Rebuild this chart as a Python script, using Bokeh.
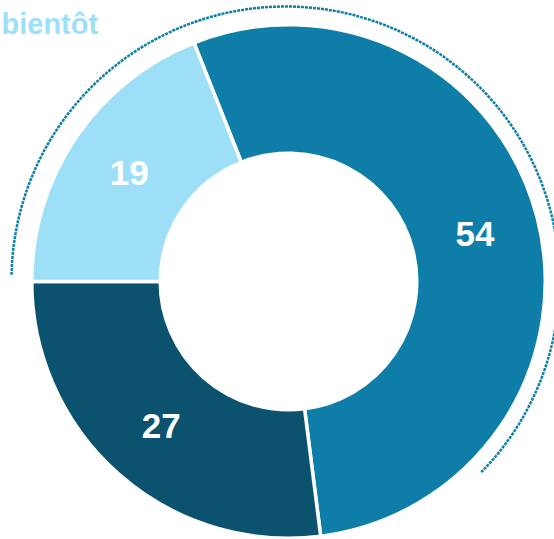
import numpy as np
from bokeh.plotting import figure
from bokeh.models import Range1d, ColumnDataSource
from bokeh.embed import file_html
from bokeh.resources import INLINE
from bokeh.core.properties import value

# ---- data ----
values = [54, 27, 19]
labels = ["54", "27", "19"]
colors = ["#0e7ea8", "#0a526e", "#9ddff7"]
caption_lines = ["bientôt"]

# ---- layout ----
W, H = 554, 539
p = figure(width=W, height=H, x_range=Range1d(0, W), y_range=Range1d(0, H),
           output_backend="svg", toolbar_location=None,
           x_axis_location=None, y_axis_location=None,
           min_border=0)
p.grid.visible = False
p.outline_line_color = None
p.background_fill_color = "white"
p.border_fill_color = "white"

cx, cy = 288, H - 281
lw = 3.5
r_in, r_out = 130 - lw / 2, 255 + lw / 2
start = np.deg2rad(111.6)

fr = np.array(values, dtype=float) / sum(values)
cum_before = np.concatenate([[0.0], np.cumsum(fr)[:-1]])
high = start - cum_before * 2 * np.pi
low = high - fr * 2 * np.pi
mid = (low + high) / 2
r_mid = (130 + 255) / 2

src = ColumnDataSource(dict(low=low, high=high, color=colors,
                            lx=cx + r_mid * np.cos(mid),
                            ly=cy + r_mid * np.sin(mid),
                            label=labels))

# decorative dotted arc
p.arc(x=285, y=H - 280, radius=274, start_angle=np.deg2rad(-44.4),
      end_angle=np.deg2rad(179.0), direction="anticlock",
      line_color="#0e7ea8", line_width=2.5, line_dash="3 1")

p.annular_wedge(x=cx, y=cy, inner_radius=r_in, outer_radius=r_out,
                start_angle="low", end_angle="high", direction="anticlock",
                fill_color="color", line_color="white", line_width=lw,
                source=src)

p.text(x="lx", y="ly", text="label", source=src,
       text_font=value("Liberation Sans"), text_font_style="bold",
       text_font_size="35px", text_color="white",
       text_align="center", text_baseline="middle")

p.text(x=[1], y=[H - 23], text=caption_lines,
       text_font=value("Liberation Sans"), text_font_style="bold",
       text_font_size="29px", text_color="#9ddff7",
       text_align="left", text_baseline="middle")

open("out.html", "w").write(file_html(p, INLINE))
